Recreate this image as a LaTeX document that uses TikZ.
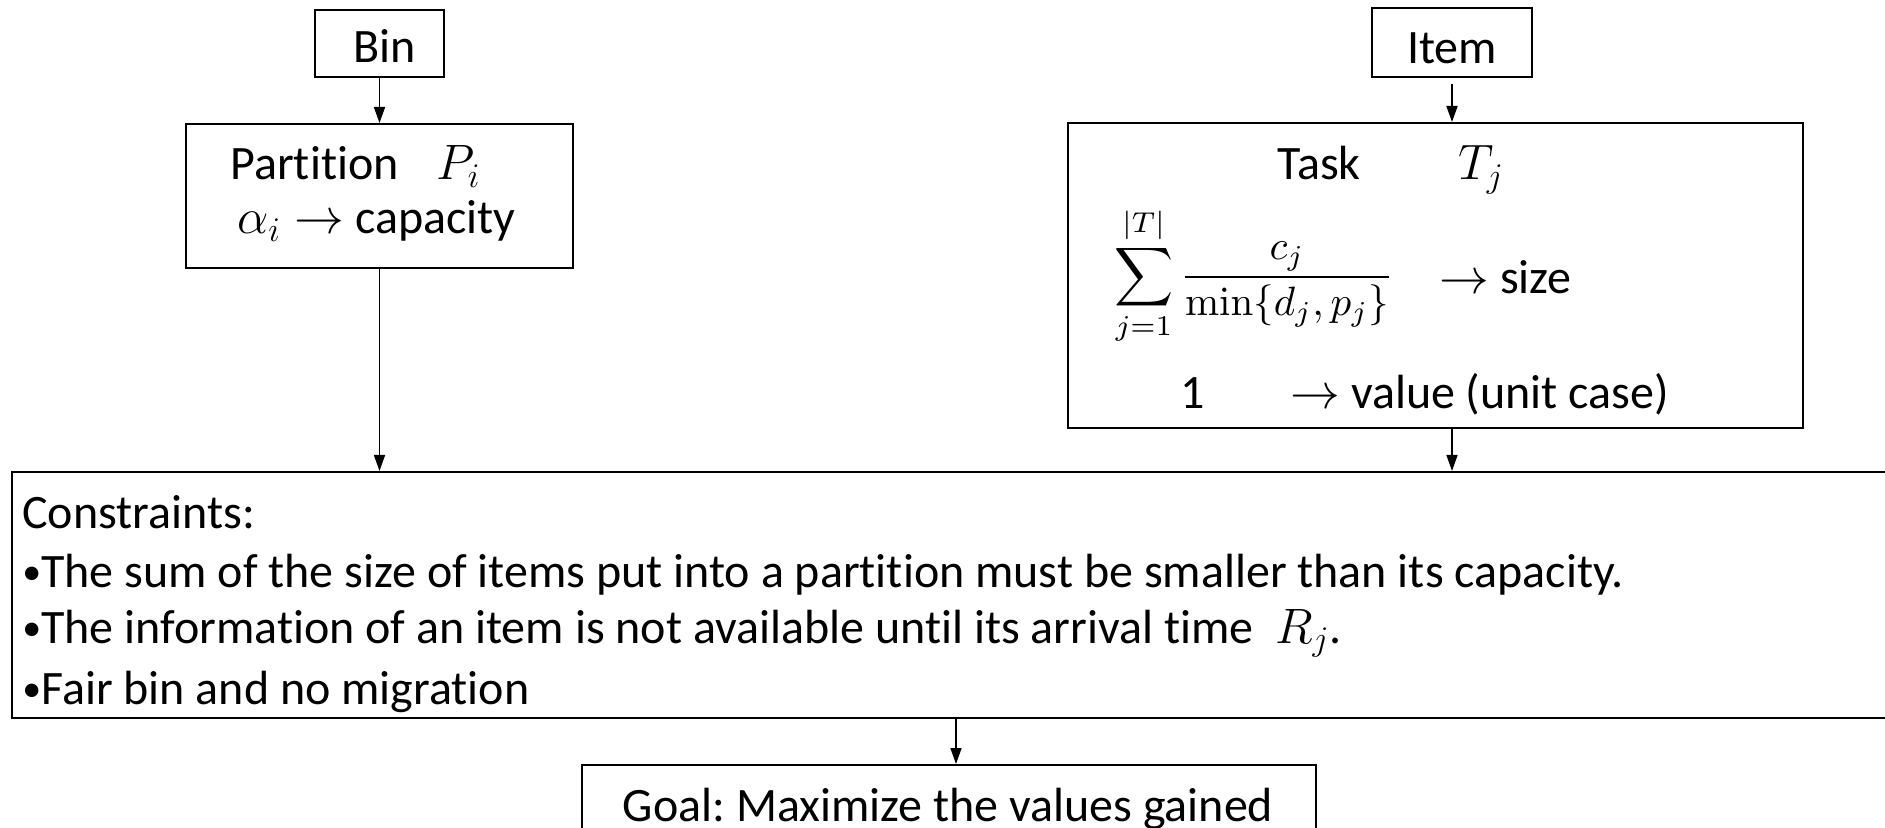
\documentclass[tikz,border=0pt]{standalone}
\usepackage[no-math]{fontspec}
\setmainfont{Carlito}[Ligatures=NoCommon]
\usetikzlibrary{arrows.meta}
\newcommand{\rar}{$\rightarrow$}
\newcommand{\bul}{{\fontsize{19}{19}\selectfont\raisebox{0.12ex}{•}}}
\tikzset{
  box/.style={draw, line width=1pt, inner sep=0pt, rectangle},
  txt/.style={inner sep=0pt, font=\fontsize{24}{28}\selectfont\frenchspacing},
  arr/.style={-{Triangle[length=8pt,width=5.5pt]}, line width=0.8pt}
}
\begin{document}
\begin{tikzpicture}[x=0.5pt,y=-0.5pt]
\useasboundingbox (0,0) rectangle (1885,828);
\clip (0,0) rectangle (1885,828);
% boxes
\node[box, minimum width=64.5pt, minimum height=33.5pt] (bin) at (379.5,43.5) {};
\node[box, minimum width=80pt, minimum height=34.5pt] (item) at (1452,42.5) {};
\node[box, minimum width=193.5pt, minimum height=72pt] (part) at (379.5,196) {};
\node[box, minimum width=367.5pt, minimum height=152.5pt] (task) at (1435.5,275.5) {};
\node[box, minimum width=944pt, minimum height=123pt] (cons) at (956,595) {};
\node[box, minimum width=367pt, minimum height=40pt] (goal) at (949,805) {};
% texts
\node[txt, anchor=base] (bint) at (385,63) {Bin};
\node[txt, anchor=base] (itemt) at (1452,64) {Item};
\node[txt, anchor=base west] (partt) at (230,180) {Partition};
\node[txt, anchor=base west] (pi) at (436,180) {$P_i$};
\node[txt, anchor=base west] (cap) at (237,234) {$\alpha_i\rightarrow$ capacity};
\node[txt, anchor=base west] (taskt) at (1277,180) {Task};
\node[txt, anchor=base west] (tj) at (1458,180) {$T_j$};
\node[inner sep=0pt] (formula) at (1254,276) {\scalebox{2.05}{$\displaystyle\sum_{j=1}^{|T|}\frac{c_j}{\min\{d_j,p_j\}}$}};
\node[txt, anchor=base west] (size) at (1439,294) {\rar\ size};
\node[txt, anchor=base west] (one) at (1180,409) {1};
\node[txt, anchor=base west] (value) at (1290,409) {\rar\ value (unit case)};
\node[txt, anchor=base west] (c0) at (22,529) {Constraints:};
\node[txt, anchor=base west] (c1) at (22,587) {\bul The sum of the size of items put into a partition must be smaller than its capacity.};
\node[txt, anchor=base west] (c2) at (22,643) {\bul The information of an item is not available until its arrival time \ $R_j$.};
\node[txt, anchor=base west] (c3) at (22,704) {\bul Fair bin and no migration};
\node[txt, anchor=base] (goalt) at (948,821) {Goal: Maximize the values gained};
% arrows
\draw[arr] (bin.south) -- (part.north);
\draw[arr, shorten <=3pt] (item.south) -- (item.south |- task.north);
\draw[arr] (part.south) -- (part.south |- cons.north);
\draw[arr] (item.south |- task.south) -- (item.south |- cons.north);
\draw[arr] (cons.south) -- (cons.south |- goal.north);
\end{tikzpicture}
\end{document}
